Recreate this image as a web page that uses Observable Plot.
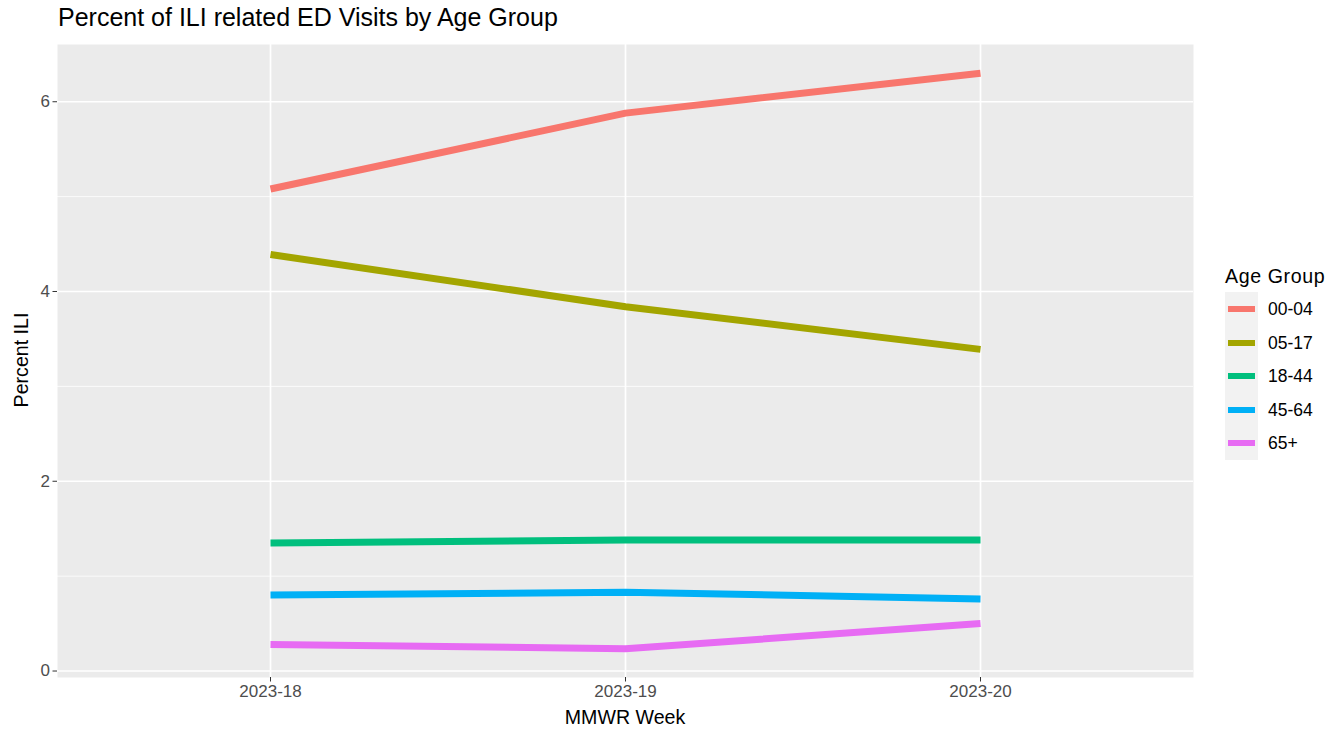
<!DOCTYPE html>
<html>
<head>
<meta charset="utf-8">
<script src="https://cdn.jsdelivr.net/npm/d3@7"></script>
<script src="https://cdn.jsdelivr.net/npm/@observablehq/plot@0.6"></script>
<style>
  html, body { margin: 0; padding: 0; background: #fff; }
  #wrap { position: relative; width: 1343px; height: 729px; overflow: hidden; font-family: "Liberation Sans", Arial, sans-serif; }
  #chart { position: absolute; left: 0; top: 0; }
  .abs { position: absolute; white-space: nowrap; }
  #title { left: 58px; top: 2px; font-size: 25px; line-height: 30px; color: #000; }
  #ylab { left: 21px; top: 360px; font-size: 19.6px; color: #000; transform: translate(-50%, -50%) rotate(-90deg); }
  #xlab { left: 625px; top: 717px; font-size: 19.6px; color: #000; transform: translate(-50%, -50%); }
  #legend { left: 1225px; top: 266px; }
  #legend .lt { font-size: 19.6px; letter-spacing: 0.6px; color: #000; height: 26px; line-height: 20px; }
  #legend .keys { background: #F2F2F2; width: 33px; }
  #legend .row { position: relative; height: 33.6px; }
  #legend .sw { position: absolute; left: 3px; top: 14px; width: 27px; height: 6px; }
  #legend .lb { position: absolute; left: 43px; top: 7px; font-size: 17.5px; color: #000; line-height: 20px; }
</style>
</head>
<body>
<div id="wrap">
  <div id="chart"></div>
  <div id="title" class="abs">Percent of ILI related ED Visits by Age Group</div>
  <div id="ylab" class="abs">Percent ILI</div>
  <div id="xlab" class="abs">MMWR Week</div>
  <div id="legend" class="abs"></div>
</div>
<script>
const weeks = ["2023-18", "2023-19", "2023-20"];
const groups = ["00-04", "05-17", "18-44", "45-64", "65+"];
const colors = ["#F8766D", "#A3A500", "#00BF7D", "#00B0F6", "#E76BF3"];
const v0004 = [5.08, 5.88, 6.30];
const v0517 = [4.39, 3.84, 3.39];
const v1844 = [1.35, 1.38, 1.38];
const v4564 = [0.80, 0.83, 0.76];
const v65plus = [0.28, 0.235, 0.50];
const yMajorTicks = [0, 2, 4, 6];
const yMinorTicks = [1, 3, 5];

const series = [v0004, v0517, v1844, v4564, v65plus];
const rows = [];
groups.forEach((g, i) => weeks.forEach((w, j) => rows.push({group: g, week: w, value: series[i][j]})));

const [lo, hi] = d3.extent(rows, d => d.value);
const pad = (hi - lo) * 0.05;

const chart = Plot.plot({
  width: 1343,
  height: 729,
  marginLeft: 57,
  marginRight: 150,
  marginTop: 44,
  marginBottom: 52,
  style: { fontFamily: "'Liberation Sans', Arial, sans-serif", background: "transparent" },
  x: { type: "point", domain: weeks, padding: 0.6 },
  y: { domain: [lo - pad, hi + pad] },
  color: { domain: groups, range: colors },
  marks: [
    Plot.frame({ fill: "#EBEBEB", stroke: null }),
    Plot.ruleY(yMinorTicks, { stroke: "#fff", strokeWidth: 0.8 }),
    Plot.ruleY(yMajorTicks, { stroke: "#fff", strokeWidth: 1.7 }),
    Plot.ruleX(weeks, { stroke: "#fff", strokeWidth: 1.7 }),
    Plot.line(rows, { x: "week", y: "value", z: "group", stroke: "group", strokeWidth: 7, strokeLinecap: "butt", strokeLinejoin: "round" }),
    Plot.axisY({ ticks: yMajorTicks, tickFormat: d3.format("d"), tickSize: 4.5, tickPadding: 3, fontSize: 17, color: "#4D4D4D", stroke: "#333333", label: null }),
    Plot.axisX({ tickSize: 4.5, tickPadding: 3, fontSize: 17, color: "#4D4D4D", stroke: "#333333", label: null })
  ]
});
document.getElementById("chart").appendChild(chart);

const leg = document.getElementById("legend");
const lt = document.createElement("div");
lt.className = "lt";
lt.textContent = "Age Group";
leg.appendChild(lt);
const keys = document.createElement("div");
keys.className = "keys";
groups.forEach((g, i) => {
  const row = document.createElement("div");
  row.className = "row";
  const sw = document.createElement("div");
  sw.className = "sw";
  sw.style.background = colors[i];
  const lb = document.createElement("div");
  lb.className = "lb";
  lb.textContent = g;
  row.appendChild(sw);
  row.appendChild(lb);
  keys.appendChild(row);
});
leg.appendChild(keys);
</script>
</body>
</html>
